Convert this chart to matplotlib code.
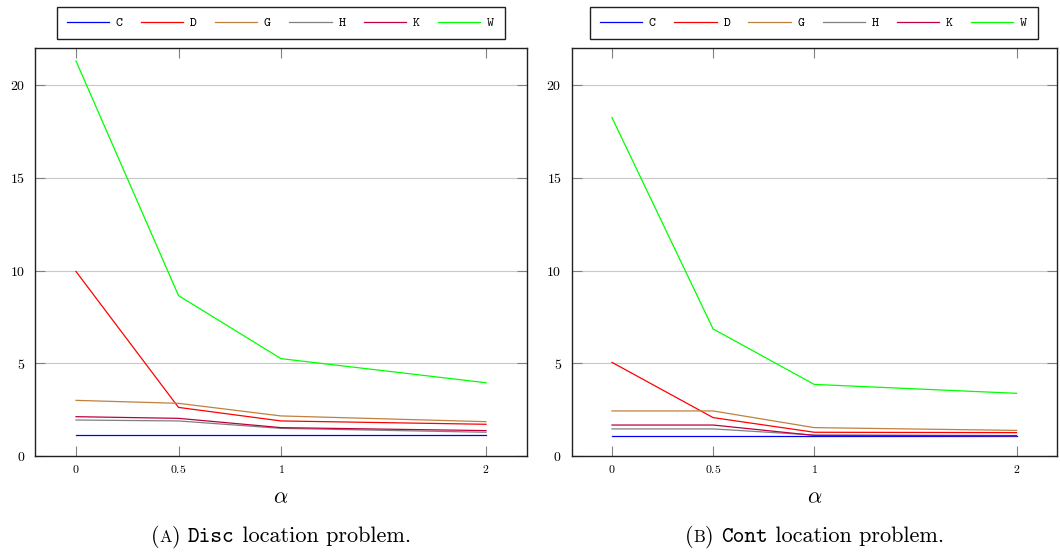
import matplotlib
matplotlib.use("Agg")
import matplotlib.pyplot as plt
from matplotlib.offsetbox import TextArea, HPacker, AnchoredOffsetbox

plt.rcParams['mathtext.fontset'] = 'cm'
plt.rcParams['font.family'] = ['cmr10', 'DejaVu Serif']
plt.rcParams['axes.formatter.use_mathtext'] = True

alphas = [0, 0.5, 1, 2]
series_names = ['C', 'D', 'G', 'H', 'K', 'W']
colors = ['#0000ff', '#ff0000', '#bf8040', '#808080', '#bf0040', '#00ff00']

disc_C = [1.11, 1.11, 1.11, 1.11]
disc_D = [9.95, 2.62, 1.89, 1.71]
disc_G = [3.00, 2.84, 2.16, 1.85]
disc_H = [1.94, 1.89, 1.49, 1.28]
disc_K = [2.12, 2.03, 1.53, 1.37]
disc_W = [21.30, 8.65, 5.25, 3.95]

cont_C = [1.09, 1.09, 1.09, 1.09]
cont_D = [5.05, 2.07, 1.28, 1.26]
cont_G = [2.43, 2.43, 1.53, 1.38]
cont_H = [1.46, 1.46, 1.13, 1.10]
cont_K = [1.67, 1.67, 1.11, 1.10]
cont_W = [18.25, 6.85, 3.86, 3.38]

yticks = [0, 5, 10, 15, 20]
xtick_labels = ['0', '0.5', '1', '2']

panels = [
    ([disc_C, disc_D, disc_G, disc_H, disc_K, disc_W], 'A', 'Disc'),
    ([cont_C, cont_D, cont_G, cont_H, cont_K, cont_W], 'B', 'Cont'),
]

fig = plt.figure(figsize=(10.6, 5.56), dpi=100)
positions = [
    [35 / 1060, 100 / 556, 492 / 1060, 408 / 556],
    [571.5 / 1060, 100 / 556, 485.5 / 1060, 408 / 556],
]

for (data, letter, word), pos in zip(panels, positions):
    ax = fig.add_axes(pos)
    for name, vals, c in zip(series_names, data, colors):
        ax.plot(alphas, vals, color=c, lw=0.9, label=r'$\mathtt{%s}$' % name)
    ax.set_xlim(-0.2, 2.2)
    ax.set_ylim(0, 22)
    ax.set_xticks(alphas)
    ax.set_xticklabels([r'$%s$' % t for t in xtick_labels])
    ax.set_yticks(yticks)
    ax.set_yticklabels([r'$%d$' % t for t in yticks])
    ax.yaxis.grid(True, color='#c8c8c8', lw=0.8)
    ax.set_axisbelow(True)
    ax.tick_params(axis='x', direction='in', length=7, width=0.8, color='#808080',
                   top=True, bottom=True, labelsize=8.5, pad=5)
    ax.tick_params(axis='y', direction='in', length=7, width=0.8, color='#808080',
                   left=True, right=True, labelsize=10, pad=7)
    for s in ax.spines.values():
        s.set_color('#202020')
        s.set_linewidth(1.0)
    ax.set_xlabel(r'$\alpha$', fontsize=16, labelpad=9)
    leg = ax.legend(loc='lower center', bbox_to_anchor=(0.5, 1.022), ncol=6,
                    fontsize=9.5, frameon=True, fancybox=False, edgecolor='#202020',
                    framealpha=1, handlelength=3.2, columnspacing=1.33,
                    handletextpad=0.45, borderpad=0.75, borderaxespad=0)
    leg.get_frame().set_linewidth(1.0)

    cx = pos[0] + pos[2] / 2
    parts = [
        TextArea('(', textprops=dict(fontsize=16, family='cmr10')),
        TextArea(letter, textprops=dict(fontsize=12, family='cmr10')),
        TextArea(') ', textprops=dict(fontsize=16, family='cmr10')),
        TextArea(word, textprops=dict(fontsize=16, family='cmtt10')),
        TextArea(' location problem.', textprops=dict(fontsize=16, family='cmr10')),
    ]
    box = HPacker(children=parts, align='baseline', pad=0, sep=0)
    anch = AnchoredOffsetbox(loc='center', child=box, frameon=False,
                             bbox_to_anchor=(cx, 19 / 556),
                             bbox_transform=fig.transFigure, pad=0, borderpad=0)
    fig.add_artist(anch)

fig.savefig('out.png', dpi=100)
